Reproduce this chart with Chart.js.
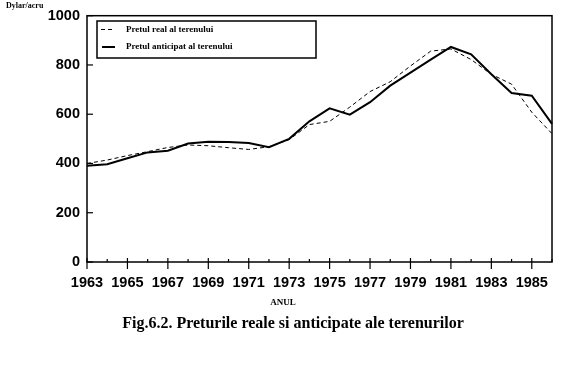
<!DOCTYPE html>
<html><head><meta charset="utf-8">
<script src="https://cdn.jsdelivr.net/npm/chart.js@4"></script>
<style>html,body{margin:0;padding:0;background:#fff}#wrap{width:567px;height:374px;position:relative}</style>
</head><body><div id="wrap"><canvas id="c" width="567" height="374"></canvas></div>
<script>
const years = [1963,1964,1965,1966,1967,1968,1969,1970,1971,1972,1973,1974,1975,1976,1977,1978,1979,1980,1981,1982,1983,1984,1985,1986];
const yearLabels = years.map(String);
const realPrice = [400,414,432,448,465,475,472,464,457,468,497,558,571,629,692,732,796,856,865,822,762,722,608,521];
const anticipatedPrice = [391,397,421,445,452,481,488,487,483,466,500,571,624,598,649,716,769,822,873,843,762,686,675,561];
const yTicks = [0,200,400,600,800,1000];
const yTickLabels = ['0','200','400','600','800','1000'];
const seriesNames = ['Pretul real al terenului','Pretul anticipat al terenului'];
const yAxisTitle = 'Dylar/acru';
const xAxisTitle = 'ANUL';
const caption = 'Fig.6.2. Preturile reale si anticipate ale terenurilor';

const SERIF = '"Liberation Serif", "Times New Roman", serif';
const SANS = '"Liberation Sans", Arial, sans-serif';

const decor = {
  id: 'decor',
  afterDraw(chart) {
    const ctx = chart.ctx, a = chart.chartArea;
    const xs = chart.scales.x, ys = chart.scales.y;
    ctx.save();
    ctx.strokeStyle = '#000';
    ctx.fillStyle = '#000';
    ctx.lineWidth = 1.5;
    ctx.strokeRect(a.left, a.top, a.right - a.left, a.bottom - a.top);
    ctx.lineWidth = 1.2;
    yTicks.forEach(v => {
      const y = ys.getPixelForValue(v);
      ctx.beginPath(); ctx.moveTo(a.left, y); ctx.lineTo(a.left + 6, y); ctx.stroke();
    });
    years.forEach((yr, i) => {
      const x = xs.getPixelForValue(i);
      ctx.beginPath();
      if (yr % 2 === 1) { ctx.moveTo(x, a.bottom - 4); ctx.lineTo(x, a.bottom + 7); }
      else { ctx.moveTo(x, a.bottom - 3); ctx.lineTo(x, a.bottom); }
      ctx.stroke();
    });
    ctx.lineWidth = 1.5;
    ctx.strokeRect(97, 21, 219, 37);
    const items = [
      {y: 29.5, x0: 101, x1: 113, ds: chart.data.datasets[0]},
      {y: 47, x0: 102, x1: 115, ds: chart.data.datasets[1]}
    ];
    items.forEach((it, k) => {
      ctx.save();
      ctx.lineWidth = it.ds.borderWidth;
      ctx.setLineDash(it.ds.borderDash || []);
      ctx.beginPath(); ctx.moveTo(it.x0, it.y); ctx.lineTo(it.x1, it.y); ctx.stroke();
      ctx.restore();
      ctx.font = 'bold 9px ' + SERIF;
      ctx.textBaseline = 'middle';
      ctx.textAlign = 'left';
      ctx.fillText(seriesNames[k], 126, it.y);
    });
    ctx.font = 'bold 8px ' + SERIF;
    ctx.textAlign = 'left'; ctx.textBaseline = 'middle';
    ctx.fillText(yAxisTitle, 6, 6);
    ctx.font = 'bold 9px ' + SERIF;
    ctx.textAlign = 'center';
    ctx.fillText(xAxisTitle, 283, 303);
    ctx.font = 'bold 16px ' + SERIF;
    ctx.fillText(caption, 293, 324);
    ctx.restore();
  }
};

new Chart(document.getElementById('c'), {
  type: 'line',
  data: {
    labels: yearLabels,
    datasets: [
      {label: seriesNames[0], data: realPrice, borderColor: '#000', borderWidth: 1, borderDash: [4,3], pointRadius: 0, tension: 0, fill: false},
      {label: seriesNames[1], data: anticipatedPrice, borderColor: '#000', borderWidth: 2, pointRadius: 0, tension: 0, fill: false}
    ]
  },
  options: {
    responsive: false,
    animation: false,
    devicePixelRatio: 1,
    layout: {padding: {top: 13, right: 15, left: 0, bottom: 0}},
    plugins: {legend: {display: false}, tooltip: {enabled: false}},
    scales: {
      x: {
        type: 'category',
        offset: false,
        grid: {display: false, drawTicks: false},
        border: {display: false},
        ticks: {
          autoSkip: false, maxRotation: 0, minRotation: 0, padding: 12,
          color: '#000', font: {family: SANS, size: 14.5, weight: 'bold'},
          callback: (v, i) => (years[i] % 2 === 1 ? yearLabels[i] : '')
        },
        afterFit: s => { s.height = 112; }
      },
      y: {
        min: 0, max: 1000,
        grid: {display: false, drawTicks: false},
        border: {display: false},
        ticks: {
          stepSize: 200, padding: 7, color: '#000', font: {family: SANS, size: 14.5, weight: 'bold'},
          callback: v => yTickLabels[yTicks.indexOf(v)] ?? String(v)
        },
        afterFit: s => { s.width = 87; }
      }
    }
  },
  plugins: [decor]
});
</script>
</body></html>
